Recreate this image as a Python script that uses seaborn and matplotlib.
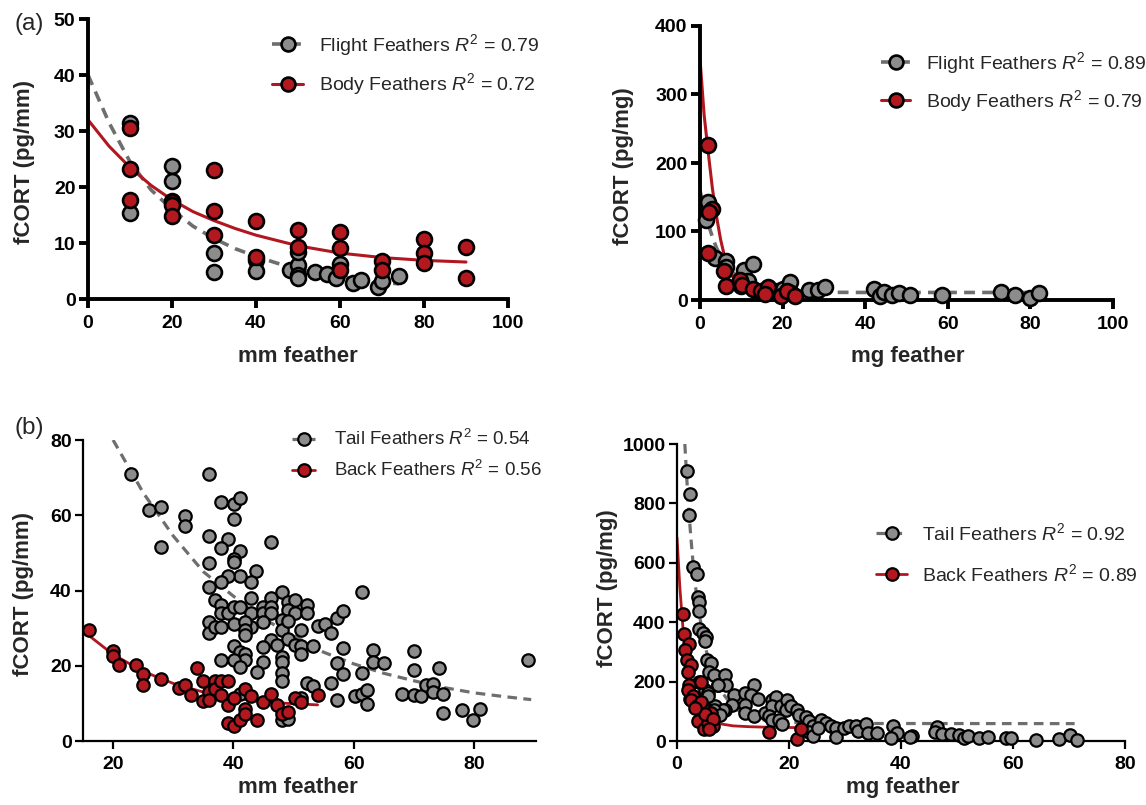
import numpy as np
import pandas as pd
import matplotlib
matplotlib.use("Agg")
import matplotlib.pyplot as plt
from matplotlib.lines import Line2D
import seaborn as sns

# ---------------- data: panel (a) left (pg/mm vs mm) ----------------
flight_mm_x = [10, 10, 20, 20, 20, 30, 30, 40, 40, 48, 50, 50, 50, 50, 54, 57, 59, 60, 63, 65, 69, 70, 74]
flight_mm_y = [31.5, 15.4, 23.8, 21.0, 17.5, 8.3, 4.9, 7.0, 5.0, 5.2, 6.0, 4.3, 3.7, 8.4, 4.9, 4.4, 3.7, 6.2, 2.8, 3.4, 2.1, 3.2, 4.1]
body_mm_x = [10, 10, 10, 20, 20, 20, 30, 30, 30, 40, 40, 50, 50, 60, 60, 60, 70, 70, 80, 80, 80, 90, 90]
body_mm_y = [30.5, 23.2, 17.7, 17.4, 16.8, 14.8, 23.1, 15.8, 11.4, 13.9, 7.5, 12.3, 9.2, 11.9, 9.1, 5.1, 6.8, 5.2, 10.8, 8.3, 6.4, 9.2, 3.7]
fit_flight_mm_x = [0, 5, 10, 15, 20, 25, 30, 35, 40, 45, 50, 55, 60, 65, 70, 74]
fit_flight_mm_y = [40, 31.5, 24.5, 19.5, 16, 13, 10.8, 9, 7.6, 6.4, 5.4, 4.6, 4.0, 3.4, 3.0, 2.7]
fit_body_mm_x = [0, 5, 10, 15, 20, 25, 30, 35, 40, 50, 60, 70, 80, 90]
fit_body_mm_y = [32, 27.3, 23.5, 20.3, 17.7, 15.6, 14.0, 12.6, 11.4, 9.5, 8.2, 7.4, 6.9, 6.6]

# ---------------- data: panel (a) right (pg/mg vs mg) ----------------
flight_mg_x = [1.9, 1.5, 3.6, 6.2, 6.4, 10.7, 12.9, 11.7, 10.0, 14.0, 16.0, 19.0, 20.0, 21.8, 22.0, 26.4, 28.5, 30.3,
               42.2, 43.6, 44.6, 46.6, 48.2, 50.8, 58.7, 72.8, 76.3, 79.8, 82.2]
flight_mg_y = [143, 117, 62, 57, 48, 44, 53, 28, 20, 11, 13.7, 13.7, 16, 26, 10, 14.6, 14.6, 19.5,
               16, 6.3, 11, 7, 10, 8, 8, 12, 8, 3.4, 9.7]
body_mg_x = [2.0, 3.0, 2.2, 2.0, 5.9, 6.4, 9.7, 10.2, 12.9, 14.7, 16.4, 15.7, 19.6, 21.0, 23.0]
body_mg_y = [227, 133, 128, 69, 42, 21, 29, 22, 16, 12.7, 19.5, 8.8, 6.3, 12.7, 6.3]
fit_flight_mg_x = [0, 1, 2, 3, 4, 5, 6, 8, 10, 13, 16, 20, 25, 30, 40, 82]
fit_flight_mg_y = [160, 134, 111, 92, 76, 64, 54, 40, 31, 22, 17, 14, 12, 11.3, 11, 11]
fit_body_mg_x = [0, 1, 2, 3, 4, 5, 6, 7, 8, 10, 12, 15, 20, 23]
fit_body_mg_y = [352, 270, 215, 163, 122, 88, 62, 45, 33, 20, 14, 11, 9.5, 9]

# ---------------- data: panel (b) left (pg/mm vs mm) ----------------
tail_mm_x = [22.9, 25.9, 28.0, 28.0, 32.0, 32.0, 36.0, 36.0, 36.0, 38.0, 40.1, 41.1, 40.1, 39.1, 38.0, 41.1, 40.1, 40.1,
             46.2, 43.8, 43.0, 41.1, 39.1, 38.0, 36.0, 37.0, 38.0, 36.0, 36.0, 37.0, 38.0, 38.0, 39.1, 40.1, 41.1, 40.1,
             43.0, 43.0, 43.0, 42.0, 42.0, 42.0, 45.0, 45.0, 46.2, 46.2, 46.2, 45.0, 48.1, 49.0, 50.2, 49.0, 50.2, 48.1,
             48.1, 49.0, 51.3, 52.2, 52.2, 49.0, 50.2, 51.3, 53.2, 51.3, 46.2, 47.2, 45.0, 40.1, 41.1, 42.0, 42.0, 38.0,
             40.1, 41.1, 45.0, 48.1, 48.1, 48.1, 48.1, 44.0, 54.1, 55.3, 56.2, 57.2, 58.3, 58.3, 57.2, 58.3, 56.2, 57.2,
             52.2, 53.2, 61.3, 61.3, 63.2, 63.2, 65.1, 60.2, 61.3, 62.2, 62.2, 68.1, 70.1, 70.1, 70.1, 71.2, 72.0, 73.2,
             74.1, 73.2, 74.8, 74.8, 78.0, 79.9, 81.0, 89.0, 41.1, 48.1, 49.0, 51.3]
tail_mm_y = [71.0, 61.4, 62.1, 51.6, 59.9, 57.2, 71.0, 54.5, 47.2, 63.6, 63.1, 64.7, 58.9, 53.8, 51.4, 50.6, 48.5, 47.5,
             52.8, 45.2, 42.3, 43.9, 43.9, 42.3, 41.0, 37.4, 36.1, 31.7, 28.8, 30.3, 30.3, 33.9, 33.9, 35.7, 35.7, 31.0,
             37.9, 34.1, 30.3, 31.7, 29.4, 28.1, 35.7, 33.9, 37.9, 35.7, 33.9, 31.7, 39.6, 37.0, 37.4, 34.8, 33.9, 32.1,
             29.4, 31.9, 29.6, 36.1, 33.9, 27.2, 25.5, 25.3, 25.3, 23.2, 26.8, 25.5, 25.0, 25.3, 23.7, 23.2, 21.6, 21.5,
             21.5, 19.7, 21.0, 22.4, 21.0, 18.1, 15.9, 18.4, 30.6, 31.0, 28.8, 32.6, 34.6, 24.8, 20.6, 17.9, 15.4, 10.8,
             15.4, 14.5, 39.5, 18.1, 24.1, 21.0, 20.6, 11.9, 12.6, 13.5, 9.9, 12.6, 23.9, 19.0, 12.3, 11.9, 14.8, 15.1,
             19.4, 13.0, 12.4, 7.5, 8.2, 5.5, 8.6, 21.6, 12.4, 5.5, 5.9, 11.4]
back_mm_x = [16.0, 20.0, 20.0, 21.0, 23.8, 25.0, 25.0, 28.0, 31.0, 32.0, 33.0, 34.0, 35.0, 35.0, 36.0, 36.0, 37.0, 37.0,
             38.0, 38.0, 39.1, 39.1, 39.1, 40.1, 40.1, 41.1, 42.0, 42.0, 42.0, 43.0, 44.0, 45.0, 46.2, 47.2, 48.1, 49.0,
             50.2, 51.3, 54.1]
back_mm_y = [29.4, 23.9, 22.5, 20.1, 20.1, 17.7, 14.8, 16.6, 14.1, 14.8, 12.3, 19.5, 15.9, 10.6, 13.0, 10.8, 15.9, 13.7,
             15.9, 12.2, 15.9, 9.5, 4.8, 3.9, 11.3, 5.7, 13.9, 8.6, 7.3, 11.9, 5.7, 10.4, 12.4, 9.5, 7.3, 7.7,
             11.3, 10.4, 12.2]
fit_tail_mm_x = [20, 25, 30, 35, 40, 45, 50, 55, 60, 65, 70, 75, 80, 85, 89.5]
fit_tail_mm_y = [80, 66, 54.5, 45, 38.5, 32.5, 28, 23.6, 20.5, 18, 16, 14.2, 12.8, 11.8, 11]
fit_back_mm_x = [15, 16, 20, 25, 30, 35, 40, 45, 50, 54]
fit_back_mm_y = [29.5, 28, 23, 18.5, 15.3, 13, 11.5, 10.4, 9.9, 9.6]

# ---------------- data: panel (b) right (pg/mg vs mg) ----------------
tail_mg_x = [1.7, 2.3, 2.1, 2.8, 3.5, 3.7, 4.0, 3.9, 4.0, 4.7, 5.2, 5.0, 5.3, 6.0, 5.8, 6.6, 7.4, 8.6, 8.7, 5.0, 5.6, 7.3,
             10.1, 9.8, 8.6, 6.7, 8.2, 12.2, 13.7, 13.2, 14.5, 12.2, 12.2, 13.8, 15.8, 16.9, 17.7, 16.9, 18.5, 19.7, 19.4,
             20.3, 21.5, 21.8, 16.4, 17.0, 18.2, 18.8, 23.1, 23.6, 24.2, 25.7, 26.6, 27.5, 28.4, 28.4, 29.9, 30.7, 32.0,
             32.3, 33.8, 34.1, 35.7, 38.6, 39.2, 38.3, 42.0, 41.6, 23.6, 24.2, 25.1, 46.4, 46.1, 47.4, 49.0, 50.3, 51.3,
             51.9, 53.9, 55.5, 58.7, 59.7, 64.1, 68.3, 70.1, 71.5, 2.4, 4.7, 6.6, 7.6, 4.0, 5.5]
tail_mg_y = [908, 832, 762, 587, 562, 486, 469, 438, 376, 362, 351, 337, 272, 261, 233, 222, 188, 222, 188, 173, 162, 189,
             156, 122, 106, 117, 103, 161, 189, 156, 142, 122, 94, 83, 94, 139, 148, 119, 117, 137, 106,
             117, 106, 89, 83, 72, 72, 56, 81, 67, 50, 72, 61, 50, 44, 13, 44, 50, 50,
             33, 56, 26, 26, 50, 28, 11, 17, 13, 30, 17, 44, 47, 30, 25, 25, 19, 11,
             16, 11, 13, 11, 11, 2, 8, 19, 4, 143, 137, 103, 87, 200, 150]
back_mg_x = [1.0, 1.3, 2.1, 1.4, 1.7, 2.5, 1.9, 2.2, 1.9, 2.8, 2.5, 4.3, 3.6, 3.7, 4.9, 6.1, 6.4, 5.5, 4.3, 5.0, 6.5, 3.2,
             16.5, 21.5, 22.1, 5.8]
back_mg_y = [426, 361, 328, 306, 272, 256, 233, 189, 172, 150, 139, 199, 119, 67, 39, 94, 52, 61, 130, 90, 75, 110,
             30, 8, 41, 40]
fit_tail_mg_x = [1.4, 2, 2.5, 3, 3.5, 4, 5, 6, 7, 8, 10, 12, 15, 20, 25, 30, 71]
fit_tail_mg_y = [1000, 800, 680, 570, 490, 425, 320, 250, 205, 165, 115, 90, 72, 63, 60, 59, 58.5]
fit_back_mg_x = [0, 0.5, 0.8, 1.1, 1.5, 2, 2.5, 3, 4, 5, 6, 8, 10, 13, 17, 22]
fit_back_mg_y = [685, 520, 445, 372, 300, 230, 180, 145, 108, 85, 72, 57, 51, 48, 46, 45]

legend_a_left = [r"Flight Feathers $R^2$ = 0.79", r"Body Feathers $R^2$ = 0.72"]
legend_a_right = [r"Flight Feathers $R^2$ = 0.89", r"Body Feathers $R^2$ = 0.79"]
legend_b_left = [r"Tail Feathers $R^2$ = 0.54", r"Back Feathers $R^2$ = 0.56"]
legend_b_right = [r"Tail Feathers $R^2$ = 0.92", r"Back Feathers $R^2$ = 0.89"]

# ---------------- style ----------------
sns.set_theme(style="ticks")
plt.rcParams["font.family"] = ["Liberation Sans", "DejaVu Sans"]
plt.rcParams["mathtext.fontset"] = "custom"
plt.rcParams["mathtext.rm"] = "Liberation Sans"
plt.rcParams["mathtext.it"] = "Liberation Sans:italic"

GRAY_FILL = "#8c8c8c"
RED_FILL = "#b3181f"
GRAY_LINE = "#6e6e6e"
RED_LINE = "#b0171f"

fig = plt.figure(figsize=(11.46, 8.05), dpi=100)
W, H = 1146, 805


def add_ax(x0, x1, ytop, ybot):
    return fig.add_axes([x0 / W, 1 - ybot / H, (x1 - x0) / W, (ybot - ytop) / H])


def draw(ax, gx, gy, rx, ry, gcx, gcy, rcx, rcy, s, ew, glw, rlw, dash):
    sns.lineplot(x=gcx, y=gcy, ax=ax, color=GRAY_LINE, lw=glw, estimator=None, sort=False, zorder=2)
    ax.lines[-1].set_dashes(dash)
    sns.lineplot(x=rcx, y=rcy, ax=ax, color=RED_LINE, lw=rlw, estimator=None, sort=False, zorder=2.5)
    sns.scatterplot(x=gx, y=gy, ax=ax, color=GRAY_FILL, edgecolor="black", linewidth=ew, s=s, zorder=3, clip_on=False)
    sns.scatterplot(x=rx, y=ry, ax=ax, color=RED_FILL, edgecolor="black", linewidth=ew, s=s, zorder=4, clip_on=False)


def style(ax, spw, tlen, tfs, xticks, yticks, xlim, ylim, xlabel, ylabel, xlc, ylc):
    ax.set_xlim(*xlim)
    ax.set_ylim(*ylim)
    ax.set_xticks(xticks)
    ax.set_yticks(yticks)
    for sp in ["top", "right"]:
        ax.spines[sp].set_visible(False)
    for sp in ["left", "bottom"]:
        ax.spines[sp].set_linewidth(spw)
        ax.spines[sp].set_color("black")
    ax.tick_params(direction="out", length=tlen, width=spw, colors="black", labelsize=tfs)
    ax.tick_params(axis="x", pad=5)
    ax.tick_params(axis="y", pad=2.5)
    for lab in ax.get_xticklabels() + ax.get_yticklabels():
        lab.set_fontweight("bold")
    ax.set_xlabel(xlabel, fontsize=16, fontweight="bold")
    ax.set_ylabel(ylabel, fontsize=16, fontweight="bold")
    ax.xaxis.set_label_coords(*xlc)
    ax.yaxis.set_label_coords(*ylc)
    ax.set_facecolor("white")


def legend(labels, x, ytop, fs, hl, tp, spacing, ms, ew, glw, rlw, dash):
    h1 = Line2D([], [], color=GRAY_LINE, lw=glw, dashes=dash, marker="o", markersize=ms,
                markerfacecolor=GRAY_FILL, markeredgecolor="black", markeredgewidth=ew)
    h2 = Line2D([], [], color=RED_LINE, lw=rlw, marker="o", markersize=ms,
                markerfacecolor=RED_FILL, markeredgecolor="black", markeredgewidth=ew)
    fig.legend([h1, h2], labels, loc="upper left", bbox_to_anchor=(x / W, 1 - ytop / H),
               frameon=False, fontsize=fs, handlelength=hl, handletextpad=tp,
               labelspacing=spacing, borderpad=0, borderaxespad=0)


# (a) left
ax1 = add_ax(88, 508, 19, 299)
draw(ax1, flight_mm_x, flight_mm_y, body_mm_x, body_mm_y, fit_flight_mm_x, fit_flight_mm_y,
     fit_body_mm_x, fit_body_mm_y, 115, 1.9, 2.6, 2.2, (3.0, 2.0))
style(ax1, 2.8, 6.5, 14, [0, 20, 40, 60, 80, 100], [0, 10, 20, 30, 40, 50], (0, 100), (0, 50),
      "mm feather", "fCORT (pg/mm)", (0.5, -0.168), (-0.126, 0.49))
legend(legend_a_left, 272, 32, 14, 1.6, 0.82, 0.7, 10, 1.9, 2.6, 2.2, (3.0, 2.0))

# (a) right
ax2 = add_ax(700, 1113, 26, 300)
draw(ax2, flight_mg_x, flight_mg_y, body_mg_x, body_mg_y, fit_flight_mg_x, fit_flight_mg_y,
     fit_body_mg_x, fit_body_mg_y, 115, 1.9, 2.6, 2.2, (3.0, 2.0))
style(ax2, 2.8, 6.5, 14, [0, 20, 40, 60, 80, 100], [0, 100, 200, 300, 400], (0, 100), (0, 400),
      "mg feather", "fCORT (pg/mg)", (0.504, -0.168), (-0.159, 0.49))
legend(legend_a_right, 881, 50, 14, 1.5, 0.82, 0.62, 10, 1.9, 2.6, 2.2, (3.0, 2.0))

# (b) left
ax3 = add_ax(83, 536, 440, 741)
draw(ax3, tail_mm_x, tail_mm_y, back_mm_x, back_mm_y, fit_tail_mm_x, fit_tail_mm_y,
     fit_back_mm_x, fit_back_mm_y, 80, 1.6, 2.3, 2.0, (3.0, 2.0))
style(ax3, 1.6, 5.7, 14, [20, 40, 60, 80], [0, 20, 40, 60, 80], (15, 90.3), (0, 80),
      "mm feather", "fCORT (pg/mm)", (0.475, -0.118), (-0.108, 0.49))
legend(legend_b_left, 292, 429, 13.5, 1.25, 1.0, 0.58, 9, 1.6, 2.3, 2.0, (3.0, 2.0))

# (b) right
ax4 = add_ax(677, 1125, 444, 741)
draw(ax4, tail_mg_x, tail_mg_y, back_mg_x, back_mg_y, fit_tail_mg_x, fit_tail_mg_y,
     fit_back_mg_x, fit_back_mg_y, 80, 1.6, 2.3, 2.0, (3.0, 2.0))
style(ax4, 1.6, 5.7, 14, [0, 20, 40, 60, 80], [0, 200, 400, 600, 800, 1000], (0, 80), (0, 1000),
      "mg feather", "fCORT (pg/mg)", (0.504, -0.122), (-0.132, 0.515))
legend(legend_b_right, 876, 522, 14, 1.6, 0.75, 1.0, 9, 1.6, 2.3, 2.0, (3.0, 2.0))

fig.text(29 / W, 1 - 24 / H, "(a)", fontsize=17.5, ha="center", va="center")
fig.text(29 / W, 1 - 428 / H, "(b)", fontsize=17.5, ha="center", va="center")

for ax in [ax1, ax2, ax3, ax4]:
    leg = ax.get_legend()
    if leg is not None:
        leg.remove()

fig.savefig("out.png", dpi=100, facecolor="white")
